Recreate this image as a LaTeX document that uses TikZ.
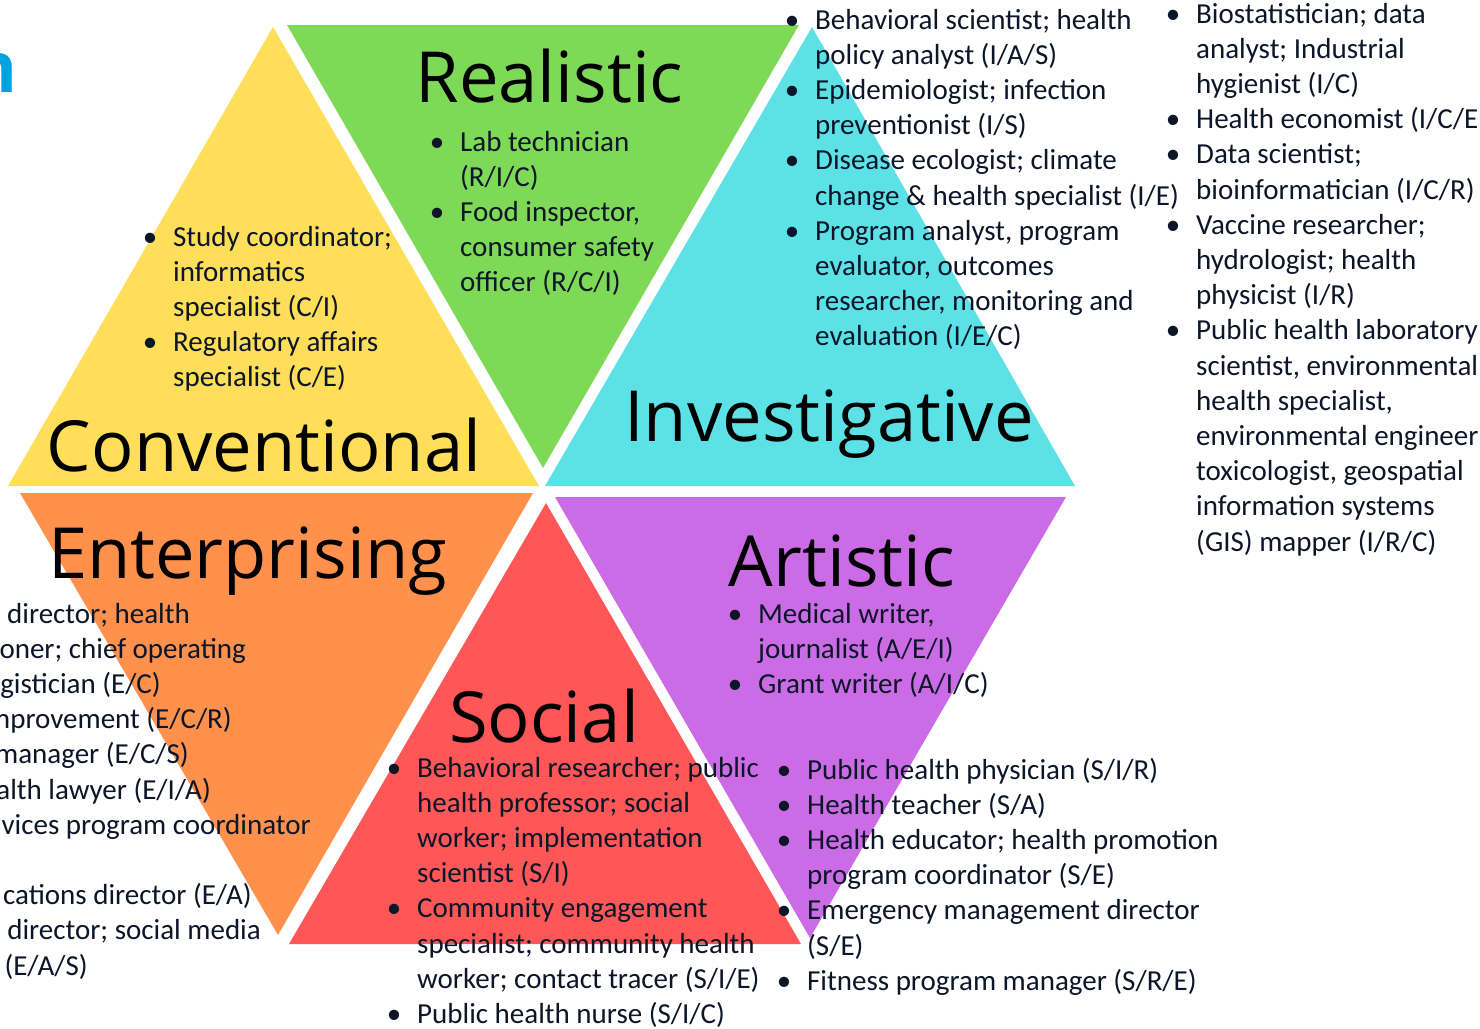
\documentclass[tikz,border=0pt]{standalone}
\usepackage{fontspec}
\setmainfont{Carlito}
\newfontfamily\titlefont{Open Sans}
\definecolor{cyel}{HTML}{FFDE59}
\definecolor{cgrn}{HTML}{7ED957}
\definecolor{ccyn}{HTML}{5CE1E6}
\definecolor{corg}{HTML}{FF914D}
\definecolor{cred}{HTML}{FF5757}
\definecolor{cpur}{HTML}{CB6CE6}
\definecolor{ink}{HTML}{0C1628}
\definecolor{cblue}{HTML}{00A2DF}
\newcommand\bul{\llap{\textbullet\hspace{16pt}}}
\newcommand\itemlines[4]{\foreach \t [count=\i from 0] in {#4}{\node[txt] (#1\i) at (#2,{#3+35.2*\i}) {\t};}}
\begin{document}
\begin{tikzpicture}[x=1pt,y=-1pt,
  txt/.style={font=\fontsize{29}{35}\selectfont, text=ink, inner sep=0pt, anchor=base west},
  txtr/.style={txt, anchor=base east},
  ttl/.style={font=\titlefont\fontsize{70.5}{80}\selectfont, text=black, inner sep=0pt, anchor=base}]
\useasboundingbox (0,0) rectangle (1480,1028);
\fill[white] (0,0) rectangle (1480,1028);
% triangles
\fill[cyel] (273,27) -- (8,486) -- (539,486) -- cycle;
\fill[cgrn] (287,25) -- (799,25) -- (543,468) -- cycle;
\fill[ccyn] (812,27) -- (545,486) -- (1075,486) -- cycle;
\fill[corg] (20,493) -- (533,493) -- (278,935) -- cycle;
\fill[cred] (546,503) -- (289,944) -- (801,944) -- cycle;
\fill[cpur] (555,497) -- (1066,497) -- (810,938) -- cycle;
% cut-off title letter
\node[font=\titlefont\bfseries\fontsize{70}{80}\selectfont, text=cblue, inner sep=0pt, anchor=base east] (bluen) at (18,92) {n};
% titles
\node[ttl] (tReal) at (549.5,102) {Realistic};
\node[ttl] (tConv) at (264,471) {Conventional};
\node[ttl] (tInv) at (829,441) {Investigative};
\node[ttl] (tEnt) at (247.5,578) {Enterprising};
\node[ttl] (tArt) at (842,586) {Artistic};
\node[ttl] (tSoc) at (544,742) {Social};
% lists
\itemlines{real}{460}{151}{{\bul Lab technician},{(R/I/C)},{\bul Food inspector,},{consumer safety},{officer (R/C/I)}}
\itemlines{conv}{173}{246}{{\bul Study coordinator;},{informatics},{specialist (C/I)},{\bul Regulatory affairs},{specialist (C/E)}}
\itemlines{invA}{815}{29}{{\bul Behavioral scientist; health},{policy analyst (I/A/S)},{\bul Epidemiologist; infection},{preventionist (I/S)},{\bul Disease ecologist; climate},{change \& health specialist (I/E)},{\bul Program analyst, program},{evaluator, outcomes},{researcher, monitoring and},{evaluation (I/E/C)}}
\itemlines{invB}{1196}{23}{{\bul Biostatistician; data},{analyst; Industrial},{hygienist (I/C)},{\bul Health economist (I/C/E},{\bul Data scientist;},{bioinformatician (I/C/R)},{\bul Vaccine researcher;},{hydrologist; health},{physicist (I/R)},{\bul Public health laboratory},{scientist, environmental},{health specialist,},{environmental engineer},{toxicologist, geospatial},{information systems},{(GIS) mapper (I/R/C)}}
\itemlines{art}{758}{623}{{\bul Medical writer,},{journalist (A/E/I)},{\bul Grant writer (A/I/C)}}
\itemlines{socA}{417}{777}{{\bul Behavioral researcher; public},{health professor; social},{worker; implementation},{scientist (S/I)},{\bul Community engagement},{specialist; community health},{worker; contact tracer (S/I/E)},{\bul Public health nurse (S/I/C)}}
\itemlines{socB}{807}{779}{{\bul Public health physician (S/I/R)},{\bul Health teacher (S/A)},{\bul Health educator; health promotion},{program coordinator (S/E)},{\bul Emergency management director},{(S/E)},{\bul Fitness program manager (S/R/E)}}
% enterprising list (cut at left edge)
\foreach \k/\r/\t in {0/190/{director; health}, 1/246/{oner; chief operating}, 2/161/{gistician (E/C)}, 3/232/{mprovement (E/C/R)}, 4/189/{manager (E/C/S)}, 5/211/{alth lawyer (E/I/A)}, 6/311/{vices program coordinator}, 8/252/{cations director (E/A)}, 9/261/{director; social media}, 10/88/{(E/A/S)}}
  {\node[txtr] (ent\k) at (\r,{623+35.2*\k}) {\t};}
\end{tikzpicture}
\end{document}
